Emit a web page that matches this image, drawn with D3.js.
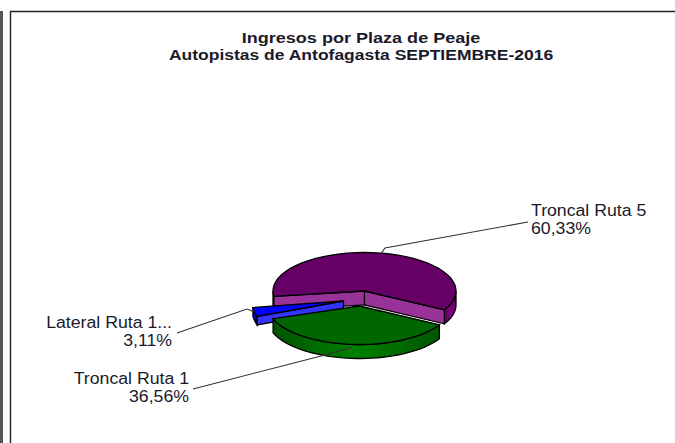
<!DOCTYPE html>
<html><head><meta charset="utf-8">
<script src="https://cdn.jsdelivr.net/npm/d3@7"></script>
<style>html,body{margin:0;padding:0;background:#fff}svg{display:block}text{font-family:"Liberation Sans",Arial,sans-serif;fill:#1a1a2a}</style>
</head><body><svg id="c" width="675" height="443"></svg>
<script>
const titleLines = ["Ingresos por Plaza de Peaje", "Autopistas de Antofagasta SEPTIEMBRE-2016"];
const categories = ["Troncal Ruta 5", "Troncal Ruta 1", "Lateral Ruta 1..."];
const values = [60.33, 36.56, 3.11];
const valueLabels = ["60,33%", "36,56%", "3,11%"];
const topColors = ["#660066", "#006600", "#0000ff"];
const cutColors = ["#993399", "#008000", "#3333ff"];
const rimColors = ["#800080", "#008000", "#0000cc"];
const rimEdgeColors = ["#660066", "#005500", "#0000aa"];

const svg = d3.select("#c");
const W = 675, H = 443;
const cx = 364.5, cy = 291, rx = 91.5;
const rys = [38.5,38.5,47];
const explode = [[0,0],[-5,15],[-21,10]];
const depths = [14,14,8.5];
const startA = 262 * Math.PI/180;
const arcs = d3.pie().sort(null).startAngle(startA).endAngle(startA + 2*Math.PI)(values);
const pt = (a,i,r=1,dz=0) => [cx+explode[i][0]+rx*r*Math.sin(a), cy+explode[i][1]-rys[i]*r*Math.cos(a)+dz];

const defs = svg.append("defs");
rimColors.forEach((c,i)=>{
  const g = defs.append("linearGradient").attr("id","rim"+i);
  g.append("stop").attr("offset",0).attr("stop-color",rimEdgeColors[i]);
  g.append("stop").attr("offset",.5).attr("stop-color",c);
  g.append("stop").attr("offset",1).attr("stop-color",rimEdgeColors[i]);
});

// frame
svg.append("rect").attr("x",0).attr("y",11).attr("width",3).attr("height",H-11).attr("fill","#555");
svg.append("path").attr("d",`M10.5 ${H}V11.5H${W}`).attr("fill","none").attr("stroke","#222").attr("stroke-width",1.4);

const line = d3.line();
const arcPts = (a0,a1,i,dz=0) => d3.range(0,41).map(k=>pt(a0+(a1-a0)*k/40,i,1,dz));
const SW = 1.3;

function slice(i){
  const d = arcs[i], g = svg.append("g"), dep = depths[i];
  const c = pt(0,i,0), c2 = [c[0],c[1]+dep];
  for (const shift of [0, 2*Math.PI]) {
    const lo = Math.max(d.startAngle, Math.PI/2+shift), hi = Math.min(d.endAngle, 3*Math.PI/2+shift);
    if (hi > lo) {
      const top = arcPts(lo,hi,i), bot = arcPts(hi,lo,i,dep);
      g.append("path").attr("d",line(top.concat(bot))+"Z").attr("fill",`url(#rim${i})`).attr("stroke","#000").attr("stroke-width",SW);
    }
  }
  // only faces turned toward the viewer
  [[d.startAngle,-1],[d.endAngle,1]].forEach(([a,s])=>{
    if (s*Math.sin(a) <= 0) return;
    const p = pt(a,i), p2=[p[0],p[1]+dep];
    g.append("path").attr("d",line([c,p,p2,c2])+"Z").attr("fill",cutColors[i]).attr("stroke","#000").attr("stroke-width",SW);
  });
  g.append("path").attr("d",line([c].concat(arcPts(d.startAngle,d.endAngle,i)))+"Z")
    .attr("fill",topColors[i]).attr("stroke","#000").attr("stroke-width",SW);
}
slice(0); slice(2); slice(1);

// labels and leaders
const labelPos = [[531,216,"start",528,222],[189,384,"end",193,389],[172,328,"end",177,333]];
const elbows = [[385,248],[325,355],[247,309]];
arcs.forEach((d,i)=>{
  const a=(d.startAngle+d.endAngle)/2, anchor=pt(a,i,1,i===1?3:0);
  const lp=labelPos[i];
  svg.append("path").attr("d",line([anchor,elbows[i],[lp[3],lp[4]]])).attr("fill","none").attr("stroke","#333").attr("stroke-width",1.1);
  [categories[i],valueLabels[i]].forEach((s,k)=>{
    svg.append("text").attr("transform",`translate(${lp[0]},${lp[1]+k*18}) scale(1.105,1)`)
      .attr("text-anchor",lp[2]).attr("font-size",16).text(s);
  });
});
titleLines.forEach((s,i)=>svg.append("text").attr("transform",`translate(361,${[43,60][i]}) scale(${[1.165,1.13][i]},1)`).attr("text-anchor","middle")
  .attr("font-size",15.5).attr("font-weight","bold").text(s));
</script></body></html>
